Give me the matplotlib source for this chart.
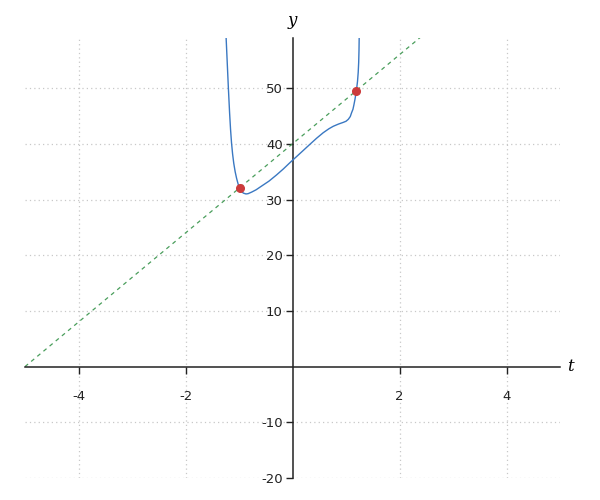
import matplotlib
matplotlib.use("Agg")
import matplotlib.pyplot as plt

plt.rcParams['axes.unicode_minus'] = False

# Curve values
curve_t = [-1.242, -1.221, -1.199, -1.176, -1.158, -1.140, -1.120, -1.098, -1.072,
           -1.045, -1.017, -0.987, -0.955, -0.918, -0.870, -0.830, -0.760, -0.680,
           -0.580, -0.440, -0.300, -0.170, -0.050, 0.075, 0.200, 0.324, 0.450,
           0.575, 0.680, 0.762, 0.860, 0.949, 1.000, 1.043, 1.080, 1.105, 1.130,
           1.148, 1.168, 1.185, 1.200, 1.215, 1.228, 1.237, 1.243, 1.247]
curve_y = [59.3, 54.8, 50.1, 45.6, 42.6, 40.2, 38.2, 36.5, 35.0,
           33.8, 32.8, 32.0, 31.45, 31.15, 31.0, 31.05, 31.35, 31.75,
           32.4, 33.3, 34.4, 35.5, 36.6, 37.7, 38.8, 39.9, 41.0,
           42.0, 42.7, 43.15, 43.55, 43.85, 44.05, 44.4, 44.9, 45.6, 46.2,
           47.0, 48.0, 49.0, 50.0, 51.2, 52.8, 54.6, 56.8, 59.4]

# Dashed line endpoints (y = 8t + 40)
line_t = [-5, 5]
line_y = [0, 80]

# Highlighted points
pts_t = [-0.99, 1.19]
pts_y = [32.1, 49.5]

xticks = [-4, -2, 2, 4]
yticks = [-20, -10, 10, 20, 30, 40, 50]

fig = plt.figure(figsize=(6, 5), dpi=100)
ax = fig.add_axes([25/600, 22/500, 535/600, 440/500])

ax.set_xlim(-5, 5)
ax.set_ylim(-20, 59.0)

for t in xticks:
    ax.axvline(t, color='#c8c8c8', lw=0.9, ls=(0, (1, 2.5)), zorder=0)
for v in yticks:
    ax.axhline(v, color='#c8c8c8', lw=0.9, ls=(0, (1, 2.5)), zorder=0)

ax.plot(line_t, line_y, color='#4a9e5c', lw=0.9, ls=(0, (3.2, 3.2)), zorder=2)
ax.plot(curve_t, curve_y, color='#3a78c2', lw=1.0, zorder=3)
ax.plot(pts_t, pts_y, 'o', color='#cc3b3b', ms=5.5, zorder=4)

ax.spines['left'].set_position(('data', 0))
ax.spines['bottom'].set_position(('data', 0))
ax.spines['top'].set_visible(False)
ax.spines['right'].set_visible(False)
for s in ('left', 'bottom'):
    ax.spines[s].set_color('#222222')
    ax.spines[s].set_linewidth(1.1)

ax.set_xticks(xticks)
ax.set_xticklabels([str(t) for t in xticks])
ax.set_yticks(yticks)
ax.set_yticklabels([str(v) for v in yticks])
ax.tick_params(axis='both', direction='out', length=5, width=1, color='#222222',
               labelsize=9.5, labelcolor='#222222')
ax.tick_params(axis='x', pad=12)
ax.tick_params(axis='y', pad=2)

ax.text(1.02, 0, 't', transform=ax.get_yaxis_transform(), fontsize=12,
        fontstyle='italic', family='DejaVu Serif', va='center', ha='center')
ax.text(0, 1.04, 'y', transform=ax.get_xaxis_transform(), fontsize=12,
        fontstyle='italic', family='DejaVu Serif', va='center', ha='center')

fig.savefig('out.png', dpi=100)
